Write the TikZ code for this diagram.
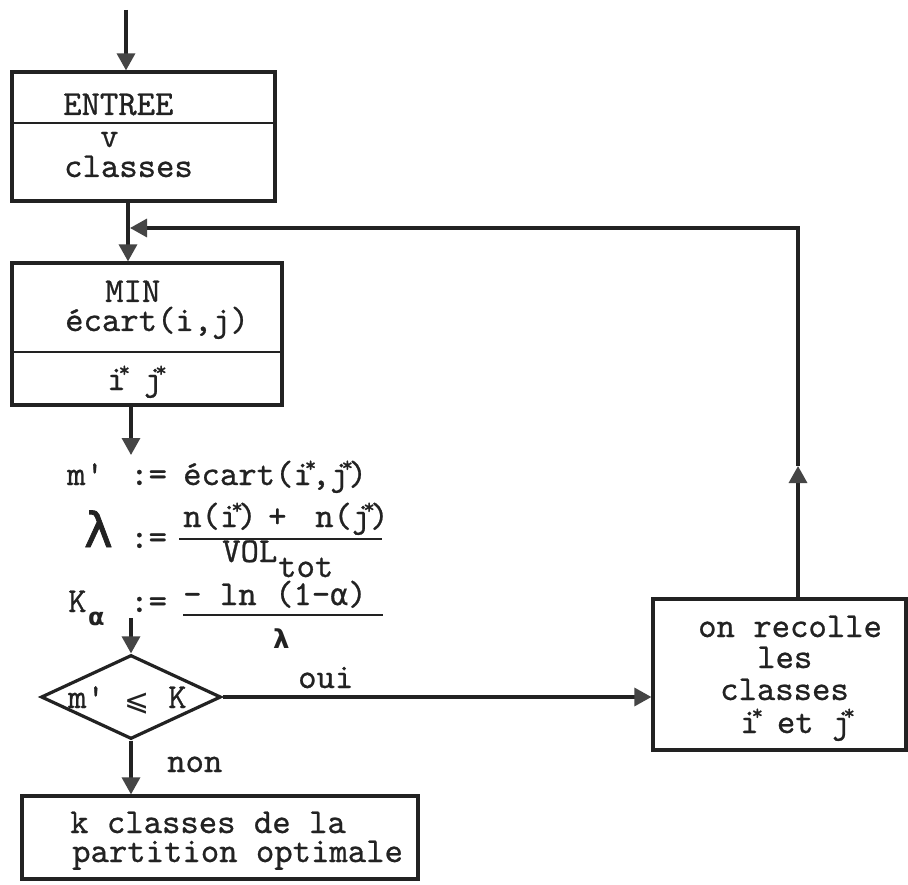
\documentclass[tikz,border=0pt]{standalone}
\usepackage{fontspec}
\newfontfamily\greekfont{DejaVu Sans}
\newfontfamily\greekheavy{DejaVu Sans}[FakeBold=1.6]
\newfontfamily\greekmono{DejaVu Sans Mono}[FakeBold=0.5]
\newfontfamily\typew{lmmono10-regular}[Extension=.otf, FakeBold=0.7]
\usetikzlibrary{arrows.meta,shapes.geometric}
\definecolor{ink}{HTML}{222222}
\definecolor{tipgray}{HTML}{454545}
% typed-over asterisk: takes no width of its own
\newcommand\sta{\kern-7pt\rlap{\raisebox{13pt}{\fontsize{22}{22}\selectfont *}}\kern7pt}
\begin{document}
\begin{tikzpicture}[x=1pt,y=-1pt,
  line/.style={draw=ink, line width=3.2pt},
  thin/.style={draw=ink, line width=2.4pt},
  flow/.style={line, -{Triangle[length=17pt,width=18pt,fill=tipgray,color=tipgray]}},
  frame/.style={line, rectangle, inner sep=0pt},
  tt/.style={font=\fontsize{35}{40}\selectfont\typew, inner sep=0pt, anchor=base west, text=ink},
  greek/.style={inner sep=0pt, anchor=base west, text=ink}]
\fill[white] (0,0) rectangle (908,885);
\useasboundingbox (0,0) rectangle (908,885);

% boxes
\node[frame, minimum width=263pt, minimum height=129pt] (b1) at (143.5,136.5) {};
\node[frame, minimum width=270pt, minimum height=142pt] (b2) at (147,334) {};
\node[frame, minimum width=253pt, minimum height=151pt] (rb) at (779.5,674.5) {};
\node[frame, minimum width=396pt, minimum height=83pt] (bb) at (220,837.5) {};
\node[diamond, line, minimum width=180pt, minimum height=84pt, inner sep=0pt] (d) at (131,697) {};

% dividers
\draw[thin] (b1.west |- 0,123) -- (b1.east |- 0,123);
\draw[thin] (b2.west |- 0,352) -- (b2.east |- 0,352);

% box texts
\node[tt] (entree) at (63,115) {ENTREE};
\node[tt] (vv) at (100,147) {v};
\node[tt] (cl1) at (64,177) {classes};
\node[tt] (mintxt) at (105,302) {MIN};
\node[tt] (ecart1) at (65,331) {écart(i,j)};
\node[tt] (ijstar) at (107,390) {i\sta\ j\sta};

% assignments
\node[tt] (mprime) at (67,485) {m'};
\node[tt] (as1) at (130,485) {:=};
\node[tt] (ecart2) at (183,485) {écart(i\sta,j\sta)};

\node[greek, font=\fontsize{48}{48}\selectfont\greekheavy] (lam) at (84,547) {λ};
\node[tt] (as2) at (130,548) {:=};
\node[tt] (n1) at (183,527) {n(i\sta)};
\node[tt] (plus) at (268,527) {+};
\node[tt] (n2) at (315,527) {n(j\sta)};
\draw[thin] (179,539) -- (382,539);
\node[tt] (vol) at (222,562) {VOL};
\node[tt] (tot) at (278,577) {tot};

\node[tt] (kk) at (68,612) {K};
\node[greek, font=\fontsize{24}{24}\selectfont\greekfont\bfseries] (kalpha) at (88,625) {α};
\node[tt] (as3) at (130,612) {:=};
\node[tt] (lnexpr) at (183,605) {-\ ln\ (1-{\fontsize{30}{30}\selectfont\greekmono α})};
\draw[thin] (183,615) -- (383,615);
\node[greek, font=\fontsize{26}{26}\selectfont\greekfont\bfseries] (lamsmall) at (273,648) {λ};

% decision
\node[tt] (dm) at (68,708) {m'};
\node[greek, font=\fontsize{30}{30}\selectfont\greekfont] (dle) at (124,710) {⩽};
\node[tt] (dk) at (168,708) {K};
\node[tt] (oui) at (298,688) {oui};
\node[tt] (non) at (167,772) {non};

% merge box text
\node[tt] (r1) at (698,637) {on recolle};
\node[tt] (r2) at (757,668) {les};
\node[tt] (r3) at (720,700) {classes};
\node[tt] (r4) at (740,733) {i\sta\ et j\sta};

% final box text
\node[tt] (f1) at (70,833) {k classes de la};
\node[tt] (f2) at (72,862) {partition optimale};

% connectors
\coordinate (start) at (126,10);
\coordinate (spine) at (128,0);
\coordinate (calc) at (131,455);
\coordinate (calcend) at (131,618);
\coordinate (turn) at (798,228);
\coordinate (join) at (130,228);
\coordinate (upmark) at (798,466);

\draw[flow] (start) -- (start |- b1.north);
\draw[flow] (b1.south -| spine) -- (b2.north -| spine);
\draw[flow] (b2.south -| calc) -- (calc);
\draw[flow] (calcend) -- (d.north);
\draw[flow] (d.east) -- (d.east -| rb.west);
\draw[flow] (d.south) -- (d.south |- bb.north);
\draw[flow] (upmark) -- (turn) -- (join);
\draw[flow] (rb.north -| turn) -- (upmark);
\end{tikzpicture}
\end{document}
